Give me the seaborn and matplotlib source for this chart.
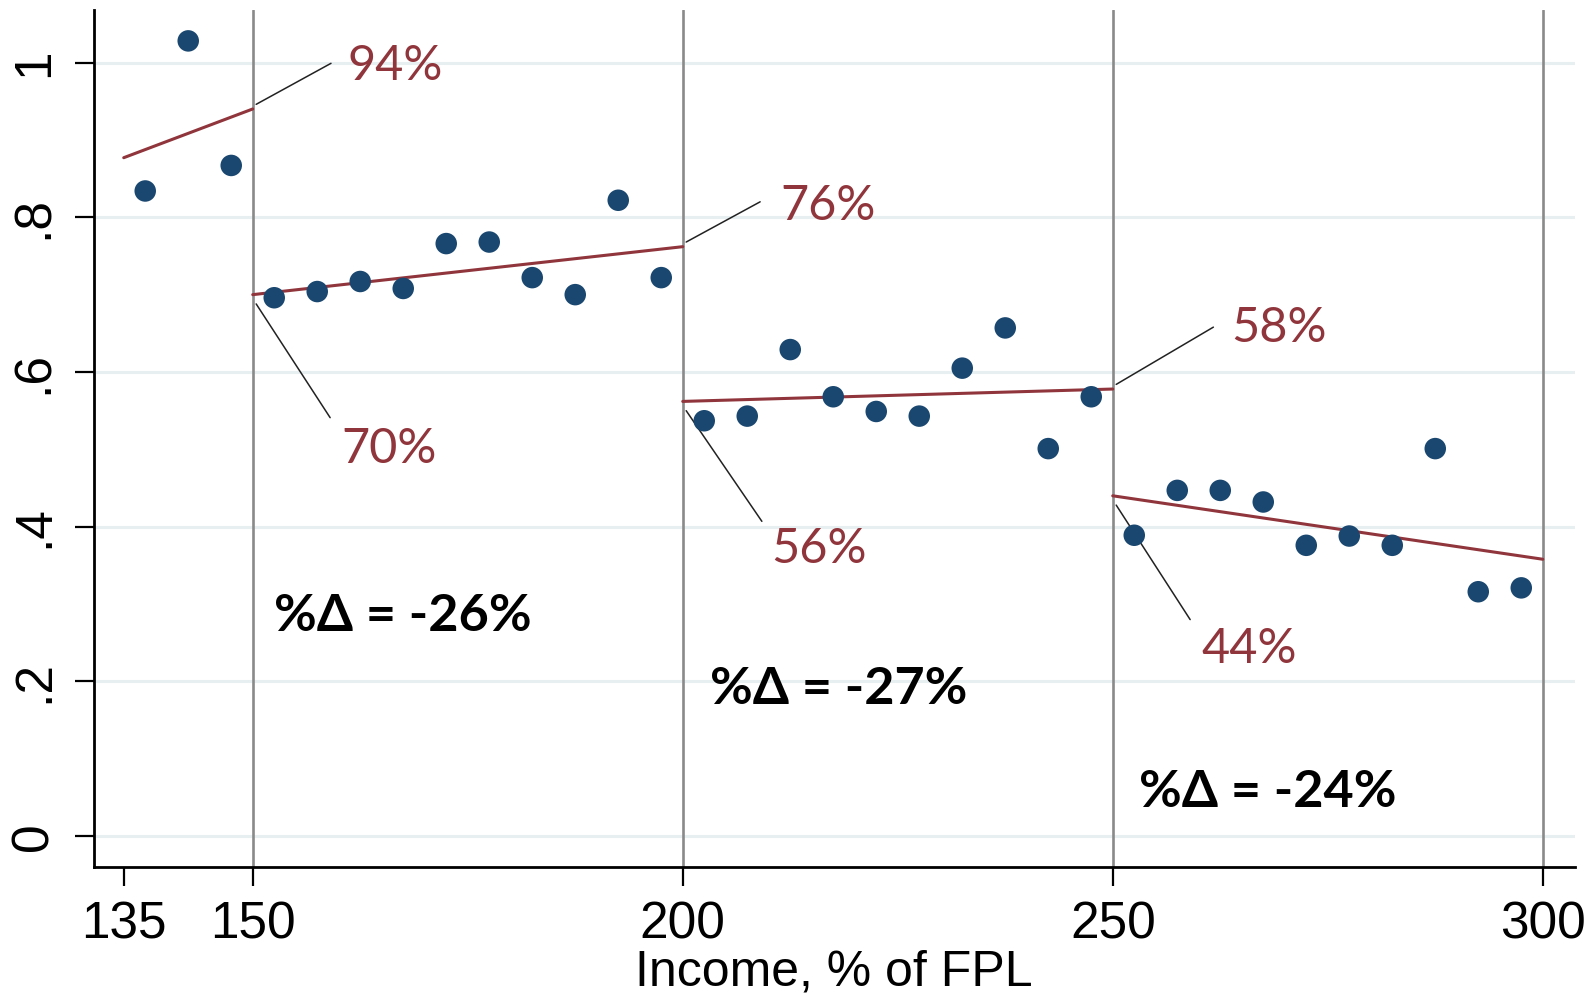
import numpy as np
import pandas as pd
import matplotlib
matplotlib.use("Agg")
import matplotlib.pyplot as plt
import seaborn as sns
from matplotlib import font_manager as fm

# ---------------- data ----------------
income_bins = [137.5, 142.5, 147.5,
               152.5, 157.5, 162.5, 167.5, 172.5, 177.5, 182.5, 187.5, 192.5, 197.5,
               202.5, 207.5, 212.5, 217.5, 222.5, 227.5, 232.5, 237.5, 242.5, 247.5,
               252.5, 257.5, 262.5, 267.5, 272.5, 277.5, 282.5, 287.5, 292.5, 297.5]
share = [0.834, 1.028, 0.867,
         0.696, 0.704, 0.717, 0.708, 0.766, 0.768, 0.722, 0.700, 0.822, 0.722,
         0.537, 0.543, 0.629, 0.568, 0.549, 0.543, 0.605, 0.657, 0.501, 0.568,
         0.389, 0.447, 0.447, 0.432, 0.376, 0.388, 0.376, 0.501, 0.316, 0.321]

fit_x_start = [135, 150, 200, 250]
fit_x_end = [150, 200, 250, 300]
fit_y_start = [0.877, 0.700, 0.562, 0.440]
fit_y_end = [0.940, 0.762, 0.578, 0.358]

cutoffs = [150, 200, 250, 300]
xtick_vals = [135, 150, 200, 250, 300]
ytick_vals = [0, 0.2, 0.4, 0.6, 0.8, 1.0]
ytick_labels = ["0", ".2", ".4", ".6", ".8", "1"]

# end-of-segment labels (left segment end / right segment start)
end_labels = ["94%", "76%", "58%"]
start_labels = ["70%", "56%", "44%"]
change_labels = ["%\u0394 = -26%", "%\u0394 = -27%", "%\u0394 = -24%"]
x_label = "Income, % of FPL"

# ---------------- style ----------------
sns.set_theme(style="white")
names = {f.name for f in fm.fontManager.ttflist}
narrow = "Liberation Sans Narrow" if "Liberation Sans Narrow" in names else "Liberation Sans"
plt.rcParams["font.family"] = [narrow, "DejaVu Sans"]
lab_font = ["Lato", "DejaVu Sans"]

navy = "#1A476F"
cran = "#90353B"
gridc = "#E7EFF0"
vgray = "#8A8A8A"

fig = plt.figure(figsize=(15.95, 9.94), dpi=100)
ax = fig.add_axes([0.0587, 0.128, 0.9285, 0.862])

ax.set_xlim(131.5, 303.7)
ax.set_ylim(-0.0395, 1.068)

for y in ytick_vals:
    ax.axhline(y, color=gridc, lw=2.2, zorder=0)
for c in cutoffs:
    ax.axvline(c, color=vgray, lw=1.9, zorder=1)

df_pts = pd.DataFrame({"income": income_bins, "share": share})
sns.scatterplot(data=df_pts, x="income", y="share", ax=ax, color=navy,
                s=240, edgecolor="none", zorder=4, legend=False)

fit_rows = []
for i in range(len(fit_x_start)):
    fit_rows.append({"seg": i, "x": fit_x_start[i], "y": fit_y_start[i]})
    fit_rows.append({"seg": i, "x": fit_x_end[i], "y": fit_y_end[i]})
df_fit = pd.DataFrame(fit_rows)
sns.lineplot(data=df_fit, x="x", y="y", units="seg", estimator=None, ax=ax,
             color=cran, lw=2.2, zorder=3, legend=False)

# labels for the jump at each cutoff
end_text_pos = [(161.0, 0.996), (211.3, 0.814), (263.8, 0.657)]
end_line_to = [(159.1, 0.999), (209.0, 0.820), (261.7, 0.658)]
start_text_pos = [(160.3, 0.501), (210.3, 0.371), (260.3, 0.242)]
start_line_to = [(159.0, 0.541), (209.2, 0.407), (259.0, 0.280)]
change_pos = [(152.5, 0.284), (203.2, 0.189), (253.1, 0.057)]

for i in range(3):
    xe = fit_x_end[i]
    ye = fit_y_end[i]
    ax.plot([xe + 0.4, end_line_to[i][0]], [ye + 0.006, end_line_to[i][1]],
            color="#222222", lw=1.1, zorder=2)
    ax.text(end_text_pos[i][0], end_text_pos[i][1], end_labels[i], color=cran,
            fontsize=35, family=lab_font, ha="left", va="center")
    xs = fit_x_start[i + 1]
    ys = fit_y_start[i + 1]
    ax.plot([xs + 0.4, start_line_to[i][0]], [ys - 0.012, start_line_to[i][1]],
            color="#222222", lw=1.1, zorder=2)
    ax.text(start_text_pos[i][0], start_text_pos[i][1], start_labels[i], color=cran,
            fontsize=35, family=lab_font, ha="left", va="center")
    ax.text(change_pos[i][0], change_pos[i][1], change_labels[i], color="black",
            fontsize=37.5, family=lab_font, fontweight="bold", ha="left", va="center")

# axes styling
for side in ["top", "right"]:
    ax.spines[side].set_visible(False)
for side in ["left", "bottom"]:
    ax.spines[side].set_color("black")
    ax.spines[side].set_linewidth(2.0)

ax.set_xticks(xtick_vals)
ax.set_xticklabels([str(v) for v in xtick_vals])
ax.set_yticks(ytick_vals)
ax.set_yticklabels(ytick_labels, rotation=90, va="center")
ax.tick_params(axis="both", which="major", direction="out", length=14, width=1.6,
               color="black", labelcolor="black", labelsize=37, left=True, bottom=True)
ax.tick_params(axis="x", pad=10)
ax.tick_params(axis="y", pad=11)
ax.set_xlabel(x_label, fontsize=36, labelpad=0, color="black")
ax.set_ylabel("")
ax.grid(False)

fig.savefig("out.png", dpi=100, facecolor="white")
